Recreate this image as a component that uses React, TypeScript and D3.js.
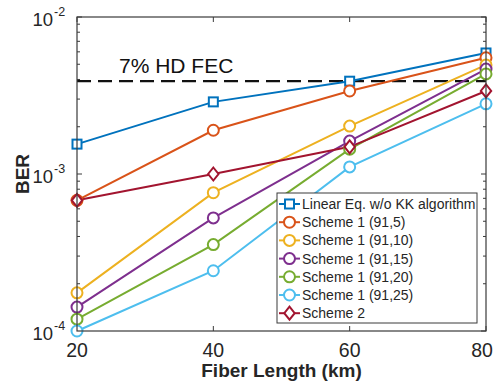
import React from "react";
import * as d3 from "d3";

const fiberLengths = [20, 40, 60, 80];
const seriesNames = [
  "Linear Eq. w/o KK algorithm",
  "Scheme 1 (91,5)",
  "Scheme 1 (91,10)",
  "Scheme 1 (91,15)",
  "Scheme 1 (91,20)",
  "Scheme 1 (91,25)",
  "Scheme 2",
];
const linearEq = [1.55e-3, 2.88e-3, 3.9e-3, 5.9e-3];
const scheme1_5 = [6.8e-4, 1.9e-3, 3.38e-3, 5.5e-3];
const scheme1_10 = [1.75e-4, 7.6e-4, 2.02e-3, 4.95e-3];
const scheme1_15 = [1.42e-4, 5.25e-4, 1.62e-3, 4.66e-3];
const scheme1_20 = [1.19e-4, 3.55e-4, 1.44e-3, 4.34e-3];
const scheme1_25 = [1.0e-4, 2.42e-4, 1.11e-3, 2.8e-3];
const scheme2 = [6.8e-4, 1.0e-3, 1.49e-3, 3.38e-3];
const fecThreshold = 3.9e-3;
const xTicks = [20, 40, 60, 80];
const yTickExps = [-2, -3, -4];

const colors = ["#0072BD", "#D95319", "#EDB120", "#7E2F8E", "#77AC30", "#4DBEEE", "#A2142F"];
const markers = ["square", "circle", "circle", "circle", "circle", "circle", "diamond"];
const allSeries = [linearEq, scheme1_5, scheme1_10, scheme1_15, scheme1_20, scheme1_25, scheme2];

const W = 494, H = 381;
const L = 77, R = 486, T = 17, B = 331;
const font = "Liberation Sans, Arial, Helvetica, sans-serif";
const textColor = "#262626";
const axisColor = "#3a3a3a";

function Marker({ type, x, y, color }: { type: string; x: number; y: number; color: string }) {
  if (type === "square") {
    return <rect x={x - 4.5} y={y - 4.5} width={9} height={9} fill="white" stroke={color} strokeWidth={2} />;
  }
  if (type === "diamond") {
    const s = 6.5;
    return (
      <path d={`M${x},${y - s}L${x + s * 0.8},${y}L${x},${y + s}L${x - s * 0.8},${y}Z`} fill="white" stroke={color} strokeWidth={2} />
    );
  }
  return <circle cx={x} cy={y} r={5.5} fill="white" stroke={color} strokeWidth={2} />;
}

export default function App() {
  const x = d3.scaleLinear().domain([20, 80]).range([L, R]);
  const y = d3.scaleLog().domain([1e-4, 1e-2]).range([B, T]);
  const line = d3
    .line<number>()
    .x((_, i) => x(fiberLengths[i]))
    .y((d) => y(d));

  const minor: number[] = [];
  for (let e = -4; e < -2; e++) for (let m = 2; m <= 9; m++) minor.push(m * Math.pow(10, e));

  const legX = 277, legY = 193, legW = 200, legH = 130;
  const rowH = 18.2;

  return (
    <svg width={W} height={H} style={{ position: "absolute", left: 0, top: 0, background: "white" }} fontFamily={font}>
      <rect x={0} y={0} width={W} height={H} fill="white" />
      {/* ticks */}
      {xTicks.map((t) => (
        <g key={"xt" + t}>
          <line x1={x(t)} x2={x(t)} y1={B} y2={B - 5} stroke={axisColor} strokeWidth={1} />
          <line x1={x(t)} x2={x(t)} y1={T} y2={T + 5} stroke={axisColor} strokeWidth={1} />
          <text x={Math.min(x(t), W - 12)} y={357} textAnchor="middle" fontSize={19.5} fill={textColor}>
            {t}
          </text>
        </g>
      ))}
      {yTickExps.map((e) => (
        <g key={"yt" + e}>
          <line x1={L} x2={L + 5} y1={y(Math.pow(10, e))} y2={y(Math.pow(10, e))} stroke={axisColor} />
          <line x1={R} x2={R - 5} y1={y(Math.pow(10, e))} y2={y(Math.pow(10, e))} stroke={axisColor} />
          <text x={53} y={y(Math.pow(10, e)) + 9} textAnchor="end" fontSize={18.5} fill={textColor}>
            10
          </text>
          <text x={54} y={y(Math.pow(10, e)) - 1} textAnchor="start" fontSize={12.5} fill={textColor}>
            {e}
          </text>
        </g>
      ))}
      {minor.map((v, i) => (
        <g key={"mn" + i}>
          <line x1={L} x2={L + 3} y1={y(v)} y2={y(v)} stroke={axisColor} />
          <line x1={R} x2={R - 3} y1={y(v)} y2={y(v)} stroke={axisColor} />
        </g>
      ))}
      {/* FEC line */}
      <line x1={L} x2={R} y1={y(fecThreshold)} y2={y(fecThreshold)} stroke="#111" strokeWidth={2.2} strokeDasharray="14,7" />
      <text x={119} y={73} fontSize={21} fill="#111">
        7% HD FEC
      </text>
      {/* series */}
      {allSeries.map((s, i) => (
        <path key={"l" + i} d={line(s) || ""} fill="none" stroke={colors[i]} strokeWidth={2} />
      ))}
      {allSeries.map((s, i) =>
        s.map((v, j) => <Marker key={`m${i}-${j}`} type={markers[i]} x={x(fiberLengths[j])} y={y(v)} color={colors[i]} />)
      )}
      {/* axes box */}
      <rect x={L} y={T} width={R - L} height={B - T} fill="none" stroke={axisColor} strokeWidth={1.2} />
      {/* legend */}
      <rect x={legX} y={legY} width={legW} height={legH} fill="white" stroke={axisColor} strokeWidth={1} />
      {seriesNames.map((n, i) => {
        const cy = legY + 11 + i * rowH;
        return (
          <g key={"lg" + i}>
            <line x1={legX + 2} x2={legX + 23} y1={cy} y2={cy} stroke={colors[i]} strokeWidth={2} />
            <Marker type={markers[i]} x={legX + 12.5} y={cy} color={colors[i]} />
            <text x={legX + 25} y={cy + 5} fontSize={14} fill={textColor}>
              {n}
            </text>
          </g>
        );
      })}
      {/* axis labels */}
      <text x={(L + R) / 2} y={377} textAnchor="middle" fontSize={19} fontWeight="bold" fill={textColor}>
        Fiber Length (km)
      </text>
      <text transform={`translate(29,174) rotate(-90)`} textAnchor="middle" fontSize={19} fontWeight="bold" fill={textColor}>
        BER
      </text>
    </svg>
  );
}
